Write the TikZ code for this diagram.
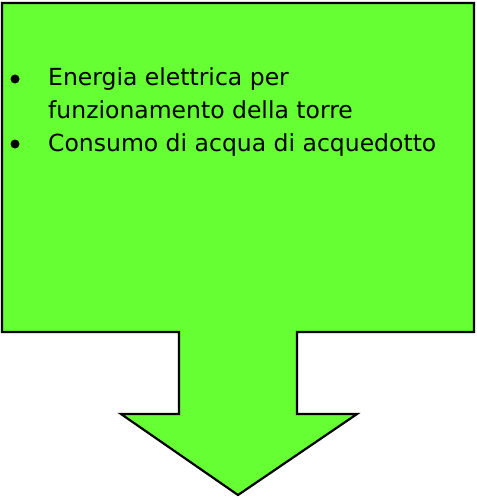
\documentclass[tikz,border=0pt]{standalone}
\usepackage{fontspec}
\setmainfont{DejaVu Sans}
\definecolor{arrgreen}{HTML}{66FF33}
\begin{document}
\begin{tikzpicture}[x=1pt,y=-1pt,
  shapeline/.style={draw=black, line width=2.2pt, fill=arrgreen, line join=miter},
  itemtext/.style={anchor=base west, inner sep=0pt, font=\fontsize{23.5}{28}\selectfont},
  bulletdot/.style={circle, fill=black, inner sep=0pt, minimum size=9pt}]
\useasboundingbox (0,0) rectangle (476,500);
\draw[shapeline] (2,3) -- (474,3) -- (474,332) -- (297,332) -- (297,414) -- (357,414)
  -- (238,495) -- (121,414) -- (179,414) -- (179,332) -- (2,332) -- cycle;
\node[bulletdot] (b1) at (15,79) {};
\node[bulletdot] (b2) at (15,144) {};
\node[itemtext] (t1) at (48,86) {Energia elettrica per};
\node[itemtext] (t2) at (48,118) {funzionamento della torre};
\node[itemtext] (t3) at (48,151) {Consumo di acqua di acquedotto};
\end{tikzpicture}
\end{document}
